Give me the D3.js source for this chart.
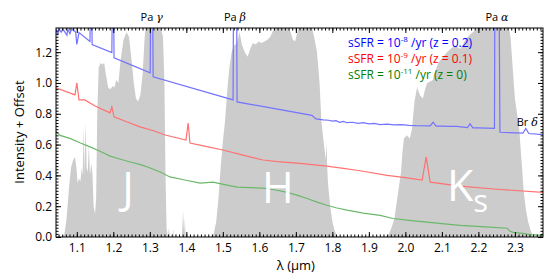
<!DOCTYPE html>
<html>
<head>
<meta charset="utf-8">
<script src="https://cdn.jsdelivr.net/npm/d3@7"></script>
<style>
  body { margin: 0; background: #fff; }
  text { font-family: "Open Sans", sans-serif; }
  .axis path { display: none; }
  .axis line { stroke: #000; stroke-width: 1; }
  .axis text { font-size: 12px; fill: #000; font-family: "Open Sans", sans-serif; }
</style>
</head>
<body>
<svg id="chart" width="560" height="280"></svg>
<script>
// filter transmission curves (wavelength um, scaled transmission)
const bandJ = [
  [1.060,0],[1.066,0.02],[1.072,0.12],[1.078,0.30],[1.084,0.45],[1.090,0.50],[1.095,0.52],
  [1.099,0.45],[1.102,0.35],[1.106,0.38],[1.110,0.36],[1.113,0.45],[1.116,0.40],[1.119,0.72],
  [1.121,0.40],[1.124,0.74],[1.127,0.45],[1.130,0.42],[1.133,0.60],[1.136,0.40],[1.140,0.48],
  [1.143,0.40],[1.146,0.20],[1.150,0.15],[1.153,0.25],[1.156,0.80],[1.160,1.10],[1.165,1.13],
  [1.170,1.12],[1.175,1.13],[1.180,1.05],[1.186,0.97],[1.192,0.96],[1.198,0.98],[1.203,0.97],
  [1.208,1.02],[1.214,1.00],[1.220,1.15],[1.228,1.28],[1.236,1.33],[1.243,1.30],[1.250,1.15],
  [1.256,1.00],[1.262,0.90],[1.268,0.88],[1.274,0.92],[1.280,1.05],[1.286,1.30],[1.292,1.45],
  [1.300,1.50],[1.320,1.45],[1.336,1.30],[1.340,1.00],[1.343,0.40],[1.346,0.05],[1.350,0]
];
const bandGap = [
  [1.350,0],[1.352,0.06],[1.355,0],[1.362,0],[1.364,0.05],[1.366,0],[1.372,0],[1.373,0.03],
  [1.375,0],[1.388,0],[1.391,0.17],[1.394,0.02],[1.396,0.12],[1.398,0]
];
const bandH = [
  [1.468,0],[1.475,0.02],[1.482,0.10],[1.488,0.25],[1.494,0.45],[1.500,0.62],[1.506,0.75],
  [1.512,0.95],[1.518,1.10],[1.524,1.20],[1.530,1.24],[1.538,1.26],[1.546,1.33],[1.552,1.25],
  [1.560,1.20],[1.568,1.17],[1.575,1.22],[1.582,1.26],[1.590,1.25],[1.598,1.27],[1.606,1.26],
  [1.614,1.27],[1.622,1.28],[1.630,1.30],[1.638,1.34],[1.646,1.37],[1.656,1.40],[1.666,1.40],
  [1.676,1.37],[1.684,1.34],[1.692,1.28],[1.698,1.27],[1.704,1.33],[1.712,1.38],[1.722,1.40],
  [1.742,1.38],[1.750,1.30],[1.758,1.20],[1.765,1.00],[1.770,0.75],[1.776,0.62],[1.782,0.50],
  [1.784,0.62],[1.786,0.45],[1.788,0.35],[1.794,0.20],[1.800,0.10],[1.806,0.04],[1.812,0.01],
  [1.820,0]
];
const bandK = [
  [1.945,0],[1.955,0.02],[1.962,0.06],[1.970,0.12],[1.976,0.22],[1.982,0.32],[1.988,0.42],
  [1.992,0.55],[1.996,0.64],[2.004,0.66],[2.012,0.64],[2.018,0.70],[2.025,0.88],[2.032,0.97],
  [2.040,0.92],[2.048,0.90],[2.054,0.96],[2.060,1.00],[2.068,1.01],[2.075,1.02],[2.081,1.07],
  [2.090,1.13],[2.100,1.16],[2.114,1.20],[2.128,1.23],[2.140,1.24],[2.150,1.22],[2.158,1.25],
  [2.164,1.28],[2.175,1.31],[2.185,1.33],[2.195,1.35],[2.205,1.37],[2.220,1.40],[2.280,1.40],
  [2.288,1.30],[2.294,1.10],[2.300,0.90],[2.306,0.80],[2.312,0.70],[2.318,0.50],[2.324,0.30],
  [2.330,0.18],[2.336,0.10],[2.342,0.05],[2.350,0]
];

// model spectra, offset
const specBlue = [
  [1.043,1.353],[1.048,1.31],[1.051,1.35],[1.057,1.33],[1.062,1.35],[1.073,1.31],[1.075,1.35],
  [1.081,1.32],[1.086,1.35],[1.097,1.33],[1.100,1.25],[1.106,1.327],[1.136,1.27],[1.137,1.45],
  [1.141,1.45],[1.142,1.25],[1.196,1.197],[1.197,1.45],[1.201,1.45],[1.202,1.164],[1.301,1.066],
  [1.302,1.45],[1.308,1.45],[1.309,1.04],[1.528,0.89],[1.529,1.45],[1.538,1.45],[1.539,0.877],
  [1.744,0.79],[1.755,0.767],[1.775,0.76],[1.79,0.758],[1.80,0.752],[1.81,0.755],[1.82,0.745],
  [1.83,0.75],[1.84,0.742],[1.855,0.745],[1.87,0.738],[1.885,0.742],[1.90,0.735],[1.915,0.738],
  [1.93,0.73],[1.95,0.733],[1.97,0.728],[1.99,0.73],[2.01,0.725],[2.03,0.723],[2.068,0.722],
  [2.076,0.745],[2.084,0.72],[2.10,0.72],[2.12,0.718],[2.14,0.718],[2.17,0.71],[2.177,0.735],
  [2.185,0.708],[2.20,0.708],[2.244,0.705],[2.245,1.45],[2.257,1.45],[2.259,0.68],[2.322,0.675],
  [2.330,0.705],[2.338,0.672],[2.377,0.665]
];
const specRed = [
  [1.043,0.969],[1.095,0.923],[1.100,1.001],[1.106,0.89],[1.122,0.89],[1.150,0.85],[1.191,0.806],
  [1.196,0.845],[1.202,0.78],[1.240,0.745],[1.273,0.715],[1.310,0.69],[1.342,0.662],[1.399,0.63],
  [1.405,0.74],[1.410,0.61],[1.450,0.59],[1.500,0.565],[1.550,0.535],[1.610,0.50],[1.650,0.49],
  [1.703,0.48],[1.745,0.47],[1.785,0.46],[1.830,0.445],[1.876,0.43],[1.950,0.40],[2.000,0.385],
  [2.046,0.37],[2.057,0.52],[2.068,0.356],[2.150,0.33],[2.250,0.31],[2.377,0.29]
];
const specGreen = [
  [1.043,0.685],[1.054,0.66],[1.081,0.64],[1.110,0.61],[1.136,0.585],[1.165,0.555],[1.191,0.525],
  [1.220,0.505],[1.246,0.487],[1.275,0.47],[1.301,0.448],[1.330,0.42],[1.355,0.39],[1.396,0.37],
  [1.438,0.35],[1.473,0.356],[1.505,0.34],[1.539,0.324],[1.575,0.32],[1.610,0.317],[1.645,0.305],
  [1.676,0.29],[1.705,0.27],[1.731,0.25],[1.760,0.225],[1.785,0.206],[1.810,0.19],[1.840,0.174],
  [1.885,0.155],[1.931,0.14],[1.966,0.12],[2.010,0.108],[2.059,0.096],[2.100,0.087],[2.150,0.076],
  [2.220,0.066],[2.279,0.057],[2.285,0.04],[2.295,0.03],[2.322,0.024],[2.340,0.015],[2.377,0.01]
];

const xTicks = [1.1, 1.2, 1.3, 1.4, 1.5, 1.6, 1.7, 1.8, 1.9, 2.0, 2.1, 2.2, 2.3];
const yTicks = [0.0, 0.2, 0.4, 0.6, 0.8, 1.0, 1.2];

const lineLabels = [
  { name: "Pa", greek: "γ", wave: 1.305 },
  { name: "Pa", greek: "β", wave: 1.533 },
  { name: "Pa", greek: "α", wave: 2.251 }
];
const legendPrefix = ["sSFR = 10", "sSFR = 10", "sSFR = 10"];
const legendExp = ["-8", "-9", "-11"];
const legendSuffix = [" /yr (z = 0.2)", " /yr (z = 0.1)", " /yr (z = 0)"];

const svg = d3.select("#chart");
const mLeft = 56, mRight = 543, mTop = 28, mBottom = 237;

const x = d3.scaleLinear().domain([1.043, 2.377]).range([mLeft, mRight]);
const y = d3.scaleLinear().domain([0, 1.357]).range([mBottom, mTop]);

svg.append("clipPath").attr("id", "plotclip")
  .append("rect").attr("x", mLeft).attr("y", mTop)
  .attr("width", mRight - mLeft).attr("height", mBottom - mTop);

const plot = svg.append("g").attr("clip-path", "url(#plotclip)");

// grey filter bands
const area = d3.area().x(d => x(d[0])).y0(y(0)).y1(d => y(d[1]));
[bandJ, bandGap, bandH, bandK].forEach(b => {
  plot.append("path").datum(b).attr("d", area).attr("fill", "#cccccc");
});

// band names
const bandText = svg.append("g").attr("fill", "#fff").attr("font-size", 43);
bandText.append("text").attr("x", x(1.24)).attr("y", 203).attr("text-anchor", "middle").text("J");
bandText.append("text").attr("x", x(1.651)).attr("y", 203).attr("text-anchor", "middle").text("H");
const ks = bandText.append("text").attr("x", 447).attr("y", 201);
ks.append("tspan").text("K");
ks.append("tspan").attr("font-size", 31).attr("dy", 11).text("s");

// spectra
const line = d3.line().x(d => x(d[0])).y(d => y(d[1]));
plot.append("path").datum(specGreen).attr("d", line).attr("fill", "none")
  .attr("stroke", "#6bb86b").attr("stroke-width", 1.2);
plot.append("path").datum(specRed).attr("d", line).attr("fill", "none")
  .attr("stroke", "#ff7272").attr("stroke-width", 1.2);
plot.append("path").datum(specBlue).attr("d", line).attr("fill", "none")
  .attr("stroke", "#7373ff").attr("stroke-width", 1.2);

// axes, ticks pointing in
const minorX = d3.range(1.05, 2.375, 0.01);
const minorY = d3.range(0, 1.36, 0.02);

svg.append("g").attr("class", "axis").attr("transform", `translate(0,${mBottom})`)
  .call(d3.axisBottom(x).tickValues(minorX).tickSize(-2.5).tickFormat(""));
svg.append("g").attr("class", "axis").attr("transform", `translate(0,${mBottom})`)
  .call(d3.axisBottom(x).tickValues(xTicks).tickSize(-5).tickPadding(6).tickFormat(d3.format(".1f")));
svg.append("g").attr("class", "axis").attr("transform", `translate(0,${mTop})`)
  .call(d3.axisTop(x).tickValues(minorX).tickSize(-2.5).tickFormat(""));
svg.append("g").attr("class", "axis").attr("transform", `translate(0,${mTop})`)
  .call(d3.axisTop(x).tickValues(xTicks).tickSize(-5).tickFormat(""));

svg.append("g").attr("class", "axis").attr("transform", `translate(${mLeft},0)`)
  .call(d3.axisLeft(y).tickValues(minorY).tickSize(-2.5).tickFormat(""));
svg.append("g").attr("class", "axis").attr("transform", `translate(${mLeft},0)`)
  .call(d3.axisLeft(y).tickValues(yTicks).tickSize(-5).tickPadding(4).tickFormat(d3.format(".1f")));
svg.append("g").attr("class", "axis").attr("transform", `translate(${mRight},0)`)
  .call(d3.axisRight(y).tickValues(minorY).tickSize(-2.5).tickFormat(""));
svg.append("g").attr("class", "axis").attr("transform", `translate(${mRight},0)`)
  .call(d3.axisRight(y).tickValues(yTicks).tickSize(-5).tickFormat(""));

svg.append("rect").attr("x", mLeft).attr("y", mTop)
  .attr("width", mRight - mLeft).attr("height", mBottom - mTop)
  .attr("fill", "none").attr("stroke", "#000").attr("stroke-width", 1);

// line names
lineLabels.forEach(l => {
  const t = svg.append("text").attr("x", x(l.wave)).attr("y", 21)
    .attr("text-anchor", "middle").attr("font-size", 11);
  t.append("tspan").text(l.name + " ");
  t.append("tspan").attr("font-style", "italic").attr("font-family", "DejaVu Serif").text(l.greek);
});
const br = svg.append("text").attr("x", x(2.334)).attr("y", 126)
  .attr("text-anchor", "middle").attr("font-size", 11);
br.append("tspan").text("Br ");
br.append("tspan").attr("font-style", "italic").attr("font-family", "DejaVu Serif").text("δ");

// legend
const legendColors = ["#0000ff", "#ff0000", "#008000"];
legendPrefix.forEach((p, i) => {
  const t = svg.append("text").attr("x", 348).attr("y", 47 + i * 16)
    .attr("font-size", 12).attr("fill", legendColors[i]);
  t.append("tspan").text(p);
  t.append("tspan").attr("font-size", 8).attr("dy", -5).text(legendExp[i]);
  t.append("tspan").attr("dy", 5).text(legendSuffix[i]);
});

// axis titles
svg.append("text").attr("x", x(1.7)).attr("y", 270).attr("text-anchor", "middle")
  .attr("font-size", 13).text("λ (µm)");
svg.append("text").attr("transform", "translate(24,132) rotate(-90)")
  .attr("text-anchor", "middle").attr("font-size", 13).text("Intensity + Offset");
</script>
</body>
</html>
